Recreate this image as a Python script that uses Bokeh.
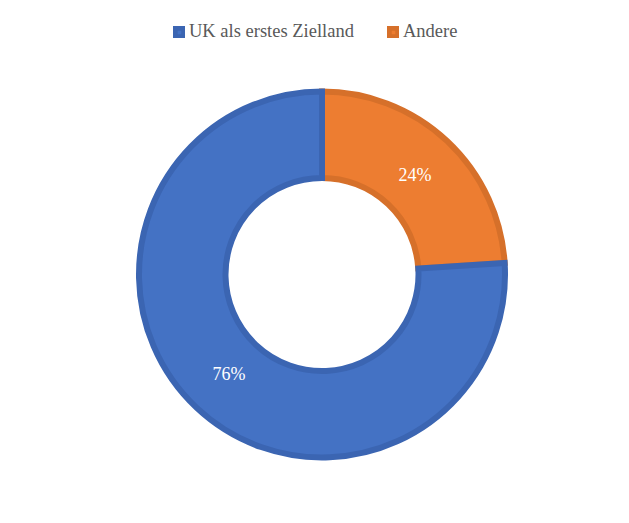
import numpy as np
from bokeh.plotting import figure
from bokeh.models import ColumnDataSource, Legend, LegendItem
from bokeh.core.properties import value
from bokeh.embed import file_html
from bokeh.resources import INLINE

categories = ["Andere", "UK als erstes Zielland"]
shares = [24, 76]
fill_colors = ["#ED7D31", "#4472C4"]
line_colors = ["#D6702A", "#3B65B2"]
labels = ["24%", "76%"]

W, H = 629, 523
cx, cy = 321.5, 249.0
r_out, r_in = 183.0, 96.5
r_lab = 136.0

frac = np.array(shares, dtype=float) / sum(shares)
ends = np.pi / 2 - 2 * np.pi * np.cumsum(frac)
starts = np.concatenate([[np.pi / 2], ends[:-1]])
mids = (starts + ends) / 2

src = ColumnDataSource(dict(
    start=ends, end=starts, fill=fill_colors, line=line_colors,
    lx=cx + r_lab * np.cos(mids), ly=cy + r_lab * np.sin(mids), lab=labels,
    cat=categories,
))

p = figure(width=W, height=H, x_range=(0, W), y_range=(0, H),
           output_backend="svg", toolbar_location=None, min_border=0,
           match_aspect=True)
p.axis.visible = False
p.grid.visible = False
p.outline_line_color = None
p.background_fill_color = "white"

r = p.annular_wedge(x=cx, y=cy, inner_radius=r_in, outer_radius=r_out,
                    start_angle="start", end_angle="end", source=src,
                    fill_color="fill", line_color="line", line_width=6,
                    line_join="miter")

p.text(x="lx", y="ly", text="lab", source=src, text_align="center",
       text_baseline="middle", text_color="white",
       text_font=value("Liberation Serif"), text_font_size="18px")

legend = Legend(items=[
    LegendItem(label=categories[1], renderers=[r], index=1),
    LegendItem(label=categories[0], renderers=[r], index=0),
], orientation="horizontal", location=(173, H - 42))
legend.label_text_font = "Liberation Serif"
legend.label_text_font_size = "18.5px"
legend.label_text_color = "#595959"
legend.glyph_width = 12
legend.glyph_height = 12
legend.label_standoff = 4
legend.spacing = 33
legend.padding = 4
legend.border_line_color = None
legend.background_fill_alpha = 0
p.add_layout(legend, "center")

open("out.html", "w").write(file_html(p, INLINE))
